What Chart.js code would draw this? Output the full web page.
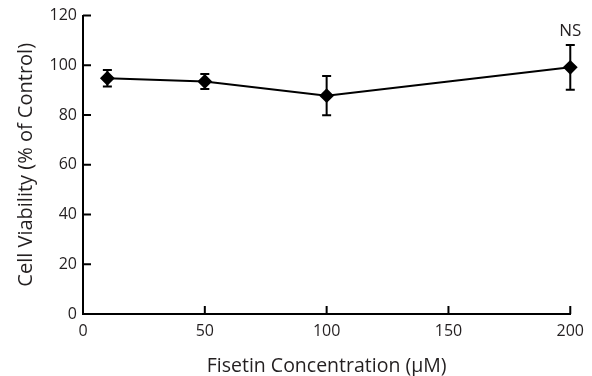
<!DOCTYPE html>
<html><head><meta charset="utf-8">
<script src="https://cdn.jsdelivr.net/npm/chart.js@4"></script>
<style>html,body{margin:0;padding:0;background:#fff}#wrap{width:592px;height:376px}</style>
</head><body><div id="wrap"><canvas id="c" width="592" height="376"></canvas></div>
<script>
const concentrations = [10, 50, 100, 200];
const viability = [94.8, 93.5, 87.8, 99.2];
const errors = [3.3, 3.0, 7.9, 9.0];
const xTicks = [0, 50, 100, 150, 200];
const yTicks = [0, 20, 40, 60, 80, 100, 120];
const annotations = [{x: 200, text: 'NS'}];

const FONT = "'Open Sans', sans-serif";
const TEXT = '#231f20';

const decor = {
  id: 'decor',
  afterDatasetsDraw(chart) {
    const ctx = chart.ctx, xs = chart.scales.x, ys = chart.scales.y;
    ctx.save();
    ctx.strokeStyle = '#000';
    ctx.lineWidth = 2;
    concentrations.forEach((c, i) => {
      const px = xs.getPixelForValue(c);
      const top = ys.getPixelForValue(viability[i] + errors[i]);
      const bot = ys.getPixelForValue(viability[i] - errors[i]);
      ctx.beginPath();
      ctx.moveTo(px, top); ctx.lineTo(px, bot);
      ctx.moveTo(px - 4.5, top); ctx.lineTo(px + 4.5, top);
      ctx.moveTo(px - 4.5, bot); ctx.lineTo(px + 4.5, bot);
      ctx.stroke();
    });
    const y0 = ys.getPixelForValue(0), x0 = xs.left;
    ctx.beginPath();
    xTicks.forEach(v => { if (v === 0) return; const p = xs.getPixelForValue(v); ctx.moveTo(p, y0); ctx.lineTo(p, y0 - 8); });
    yTicks.forEach(v => { if (v === 0) return; const p = ys.getPixelForValue(v); ctx.moveTo(x0, p); ctx.lineTo(x0 + 8, p); });
    ctx.stroke();
    ctx.fillStyle = TEXT;
    ctx.font = '17px ' + FONT;
    ctx.textAlign = 'center';
    ctx.textBaseline = 'middle';
    annotations.forEach(a => {
      const i = concentrations.indexOf(a.x);
      const top = ys.getPixelForValue(viability[i] + errors[i]);
      ctx.fillText(a.text, xs.getPixelForValue(a.x), top - 14);
    });
    ctx.restore();
  }
};

new Chart(document.getElementById('c'), {
  type: 'line',
  data: {
    datasets: [{
      data: concentrations.map((c, i) => ({x: c, y: viability[i]})),
      borderColor: '#000',
      backgroundColor: '#000',
      borderWidth: 2,
      pointStyle: 'rectRot',
      pointRadius: 6,
      pointHoverRadius: 6,
      clip: false,
      tension: 0
    }]
  },
  options: {
    responsive: false,
    animation: false,
    events: [],
    layout: {padding: {top: 15, right: 20, left: 0, bottom: 0}},
    plugins: {legend: {display: false}, tooltip: {enabled: false}},
    scales: {
      x: {
        type: 'linear', min: 0, max: 200,
        afterBuildTicks: s => { s.ticks = xTicks.map(v => ({value: v})); },
        afterFit: s => { s.height = 62; },
        border: {display: true, color: '#000', width: 2},
        grid: {display: false, drawTicks: false},
        ticks: {color: TEXT, font: {family: FONT, size: 16}, padding: 8, maxRotation: 0},
        title: {display: true, text: 'Fisetin Concentration (μM)', color: TEXT, font: {family: FONT, size: 19.5, lineHeight: 0.9}, padding: {top: 0, bottom: 1}}
      },
      y: {
        min: 0, max: 120,
        afterBuildTicks: s => { s.ticks = yTicks.map(v => ({value: v})); },
        afterFit: s => { s.width = 83; },
        border: {display: true, color: '#000', width: 2},
        grid: {display: false, drawTicks: false},
        ticks: {color: TEXT, font: {family: FONT, size: 16}, padding: 6},
        title: {display: true, text: 'Cell Viability (% of Control)', color: TEXT, font: {family: FONT, size: 20}, padding: {top: 14, bottom: 0}}
      }
    }
  },
  plugins: [decor]
});
</script></body></html>
